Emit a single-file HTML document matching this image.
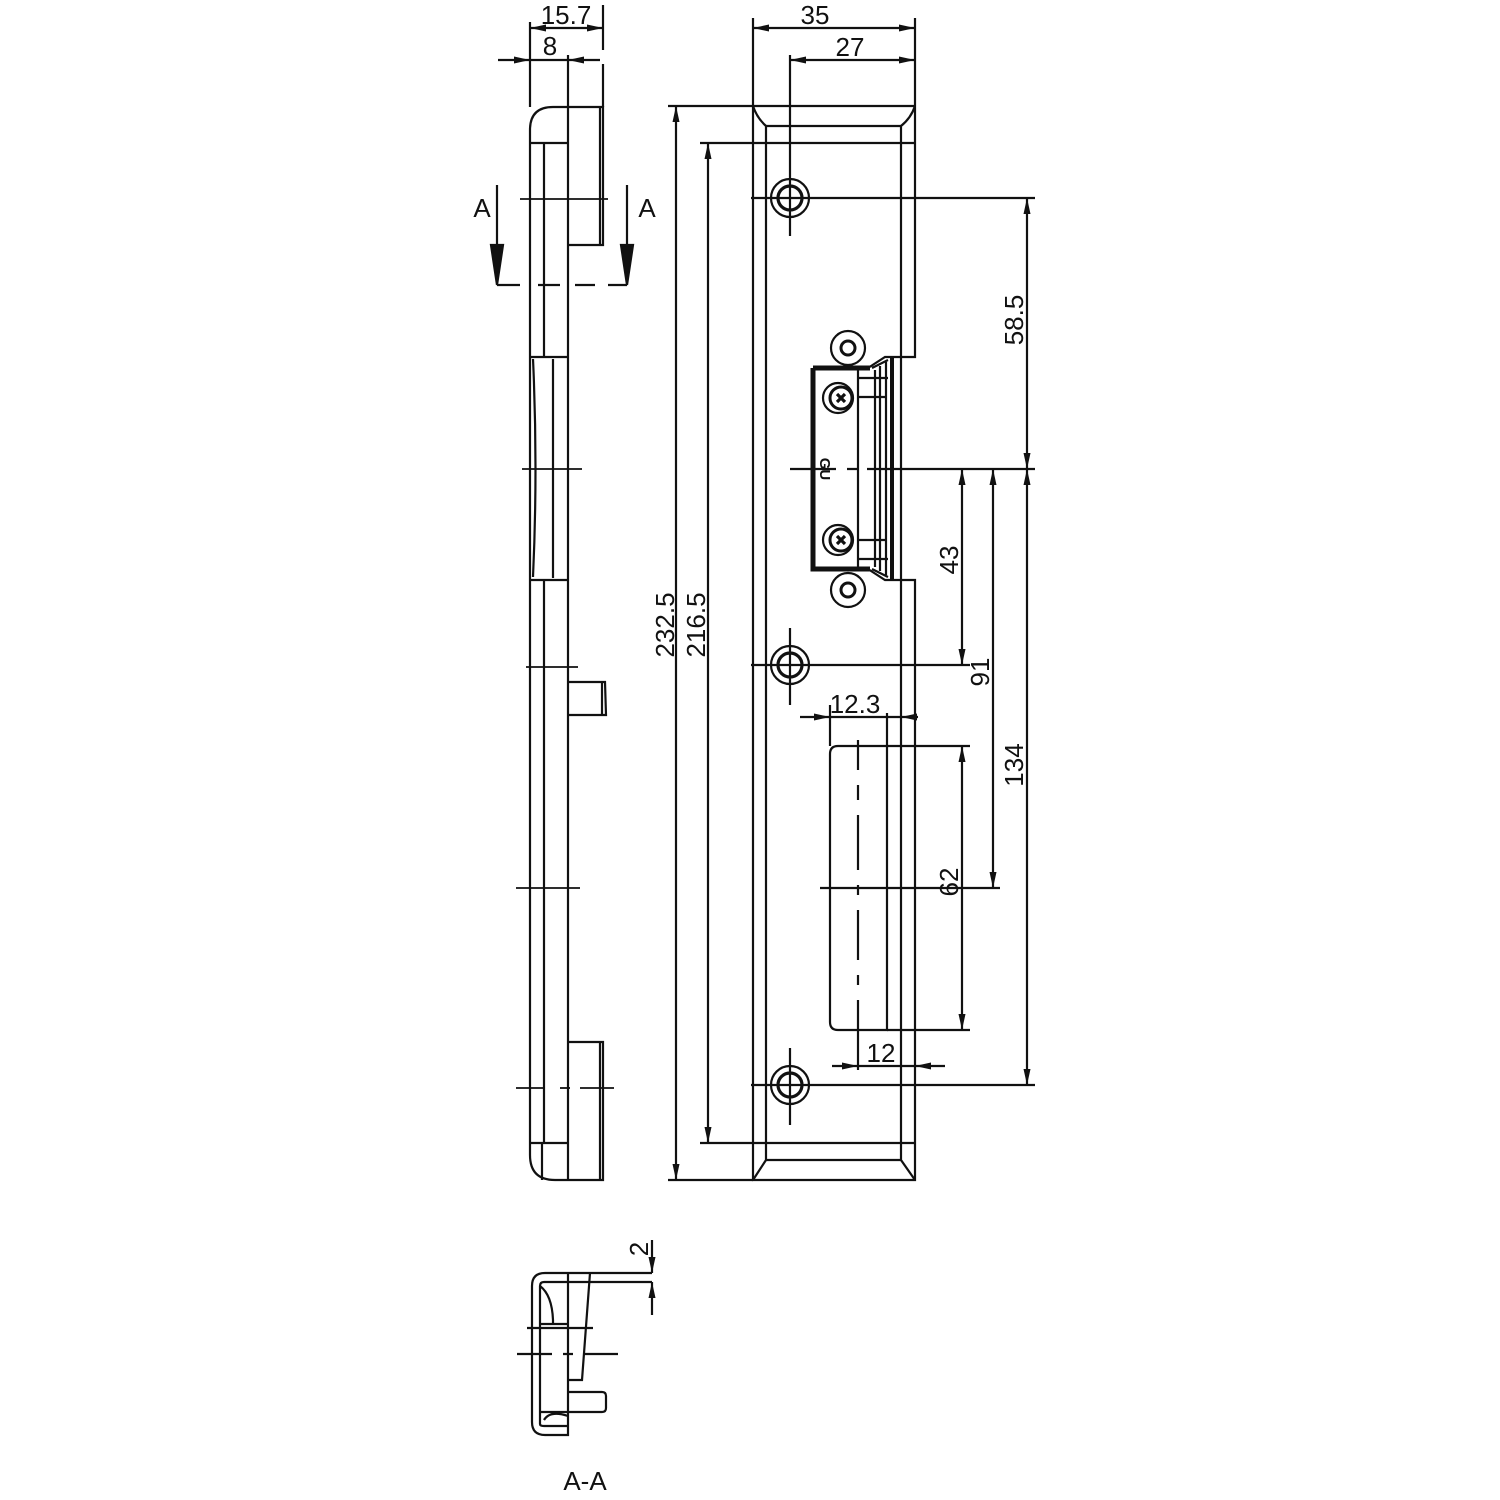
<!DOCTYPE html>
<html><head><meta charset="utf-8">
<style>html,body{margin:0;padding:0;background:#fff}svg{display:block}
text{font-family:"Liberation Sans",sans-serif;fill:#111}</style></head>
<body>
<svg width="1500" height="1500" viewBox="0 0 1500 1500" xmlns="http://www.w3.org/2000/svg">
<defs>
<marker id="a" viewBox="0 0 16 8" refX="16" refY="4" markerWidth="16" markerHeight="8" markerUnits="userSpaceOnUse" orient="auto-start-reverse"><path d="M0,0.5 L16,4 L0,7.5z" fill="#111"/></marker>
</defs>
<g stroke="#111" stroke-width="2.2" fill="none">
<!-- ===== SIDE VIEW ===== -->
<path d="M530,1155 L530,130 Q530,107 553,107 L603,107 L603,245 L568,245"/>
<line x1="600" y1="107" x2="600" y2="245"/>
<line x1="530" y1="143" x2="568" y2="143"/>
<line x1="544" y1="143" x2="544" y2="357"/>
<line x1="568" y1="107" x2="568" y2="1180"/>
<line x1="544" y1="580" x2="544" y2="1143"/>
<line x1="530" y1="357" x2="568" y2="357"/>
<line x1="530" y1="580" x2="568" y2="580"/>
<path d="M533,359 Q538,468 533,577"/>
<line x1="553" y1="359" x2="553" y2="578"/>
<path d="M530,1155 Q530,1180 555,1180 L603,1180 L603,1042 L568,1042"/>
<line x1="600" y1="1042" x2="600" y2="1180"/>
<line x1="530" y1="1143" x2="568" y2="1143"/>
<line x1="542" y1="1143" x2="542" y2="1180"/>
<path d="M568,682 L605,682 L606,715 L568,715"/>
<line x1="602" y1="682" x2="602" y2="715"/>
<g stroke-width="1.8">
<line x1="520" y1="199" x2="608" y2="199"/>
<line x1="522" y1="469" x2="582" y2="469"/>
<line x1="526" y1="667" x2="578" y2="667"/>
<line x1="516" y1="888" x2="580" y2="888"/>
<line x1="516" y1="1088" x2="545" y2="1088"/><line x1="560" y1="1088" x2="570" y2="1088"/><line x1="580" y1="1088" x2="614" y2="1088"/>
</g>
<line x1="497" y1="185" x2="497" y2="280"/>
<path d="M491,245 L503,245 L497,285z" fill="#111"/>
<line x1="627" y1="185" x2="627" y2="280"/>
<path d="M621,245 L633,245 L627,285z" fill="#111"/>
<path d="M497,285 L520,285 M538,285 L560,285 M575,285 L595,285 M608,285 L627,285"/>
<line x1="530" y1="22" x2="530" y2="107"/>
<line x1="603" y1="5" x2="603" y2="50"/>
<line x1="603" y1="64" x2="603" y2="107"/>
<line x1="530" y1="28" x2="603" y2="28" marker-start="url(#a)" marker-end="url(#a)"/>
<line x1="498" y1="60" x2="530" y2="60" marker-end="url(#a)"/>
<line x1="600" y1="60" x2="568" y2="60" marker-end="url(#a)"/>
<line x1="530" y1="60" x2="568" y2="60"/>
<line x1="568" y1="55" x2="568" y2="107"/>

<!-- ===== FRONT PLATE ===== -->
<path d="M753,18 L753,1180 L915,1180 L915,580 L900,580"/>
<path d="M915,18 L915,357 L900,357"/>
<line x1="766" y1="143" x2="766" y2="1143"/>
<line x1="901" y1="143" x2="901" y2="1143"/>
<line x1="668" y1="106" x2="915" y2="106"/>
<line x1="700" y1="143" x2="915" y2="143"/>
<line x1="766" y1="126" x2="901" y2="126"/>
<path d="M753,106 Q757,118 766,126 L766,143 M915,106 Q911,118 901,126 L901,143"/>
<line x1="700" y1="1143" x2="915" y2="1143"/>
<line x1="668" y1="1180" x2="753" y2="1180"/>
<line x1="766" y1="1160" x2="901" y2="1160"/>
<path d="M753,1180 L766,1160 L766,1143 M915,1180 L901,1160 L901,1143"/>
<g>
<circle cx="790" cy="198" r="19"/><circle cx="790" cy="198" r="12" stroke-width="3.2"/>
<circle cx="790" cy="665" r="19"/><circle cx="790" cy="665" r="12" stroke-width="3.2"/>
<circle cx="790" cy="1085" r="19"/><circle cx="790" cy="1085" r="12" stroke-width="3.2"/>
</g>
<line x1="790" y1="55" x2="790" y2="236"/>
<line x1="790" y1="628" x2="790" y2="705"/>
<line x1="790" y1="1048" x2="790" y2="1125"/>
<line x1="751" y1="198" x2="1035" y2="198"/>
<line x1="751" y1="665" x2="970" y2="665"/>
<line x1="751" y1="1085" x2="1035" y2="1085"/>
<!-- keeper -->
<path d="M813,368 L813,569 L870,569" stroke-width="5"/>
<path d="M813,368 L870,368" stroke-width="5"/>
<line x1="858" y1="370" x2="858" y2="567"/>
<line x1="858" y1="378" x2="888" y2="378"/><line x1="858" y1="559" x2="888" y2="559"/>
<line x1="858" y1="397" x2="885" y2="397"/><line x1="858" y1="540" x2="885" y2="540"/>
<line x1="875" y1="370" x2="875" y2="567"/>
<line x1="880" y1="366" x2="880" y2="571"/>
<line x1="886" y1="362" x2="886" y2="575"/>
<path d="M892,358 L892,580" stroke-width="4"/>
<path d="M868,368 L885,357 L900,357 M868,569 L885,580 L900,580 M872,368 L888,360 M872,569 L888,577"/>
<circle cx="848" cy="348" r="17"/><circle cx="848" cy="348" r="7" stroke-width="3"/>
<circle cx="848" cy="590" r="17"/><circle cx="848" cy="590" r="7" stroke-width="3"/>
<circle cx="838" cy="398" r="15"/><circle cx="841" cy="398" r="11" stroke-width="3"/>
<circle cx="838" cy="540" r="15"/><circle cx="841" cy="540" r="11" stroke-width="3"/>
<path d="M837,394 L845,402 M845,394 L837,402 M837,536 L845,544 M845,536 L837,544" stroke-width="3.2"/>
<path d="M790,469 L836,469 M847,469 L858,469 M867,469 L1035,469"/>
<!-- slot -->
<path d="M838,746 L887,746 L887,1030 L838,1030 Q830,1030 830,1022 L830,754 Q830,746 838,746z"/>
<line x1="887" y1="746" x2="970" y2="746"/>
<line x1="887" y1="1030" x2="970" y2="1030"/>
<path d="M858,740 L858,770 M858,785 L858,800 M858,815 L858,870 M858,885 L858,895 M858,910 L858,960 M858,975 L858,985 M858,1000 L858,1030" />
<line x1="858" y1="1030" x2="858" y2="1070"/>
<line x1="820" y1="888" x2="1000" y2="888"/>
<line x1="830" y1="705" x2="830" y2="746"/>
<line x1="800" y1="717" x2="830" y2="717" marker-end="url(#a)"/>
<line x1="918" y1="717" x2="901" y2="717" marker-end="url(#a)"/>
<line x1="830" y1="717" x2="901" y2="717"/>
<line x1="887" y1="713" x2="887" y2="746"/>
<line x1="832" y1="1066" x2="858" y2="1066" marker-end="url(#a)"/>
<line x1="945" y1="1066" x2="915" y2="1066" marker-end="url(#a)"/>
<line x1="858" y1="1066" x2="915" y2="1066"/>
<line x1="753" y1="28" x2="915" y2="28" marker-start="url(#a)" marker-end="url(#a)"/>
<line x1="790" y1="60" x2="915" y2="60" marker-start="url(#a)" marker-end="url(#a)"/>
<line x1="676" y1="106" x2="676" y2="1180" marker-start="url(#a)" marker-end="url(#a)"/>
<line x1="708" y1="143" x2="708" y2="1143" marker-start="url(#a)" marker-end="url(#a)"/>
<line x1="1027" y1="198" x2="1027" y2="469" marker-start="url(#a)" marker-end="url(#a)"/>
<line x1="962" y1="469" x2="962" y2="665" marker-start="url(#a)" marker-end="url(#a)"/>
<line x1="993" y1="469" x2="993" y2="888" marker-start="url(#a)" marker-end="url(#a)"/>
<line x1="1027" y1="469" x2="1027" y2="1085" marker-start="url(#a)" marker-end="url(#a)"/>
<line x1="962" y1="746" x2="962" y2="1030" marker-start="url(#a)" marker-end="url(#a)"/>

<!-- ===== SECTION A-A ===== -->
<path d="M652,1273 L545,1273 Q532,1273 532,1286 L532,1422 Q532,1435 545,1435 L568,1435 L568,1273"/>
<path d="M652,1282 L544,1282 Q540,1282 540,1286 L540,1424 Q540,1426 544,1426 L568,1426"/>
<path d="M590,1273 L582,1380 L568,1380"/>
<path d="M540,1286 Q552,1295 553,1320 L553,1324"/>
<path d="M540,1324 L568,1324 M540,1412 L568,1412 M544,1420 Q550,1410 568,1416"/>
<path d="M568,1392 L602,1392 Q606,1392 606,1396 L606,1408 Q606,1412 602,1412 L568,1412"/>
<line x1="527" y1="1328" x2="593" y2="1328"/>
<path d="M517,1354 L552,1354 M563,1354 L573,1354 M585,1354 L618,1354"/>
<line x1="652" y1="1240" x2="652" y2="1273" marker-end="url(#a)"/>
<line x1="652" y1="1315" x2="652" y2="1282" marker-end="url(#a)"/>
</g>
<g font-size="26">
<text x="566" y="24" text-anchor="middle">15.7</text>
<text x="550" y="55" text-anchor="middle">8</text>
<text x="482" y="217" text-anchor="middle">A</text>
<text x="647" y="217" text-anchor="middle">A</text>
<text x="815" y="24" text-anchor="middle">35</text>
<text x="850" y="56" text-anchor="middle">27</text>
<text x="855" y="713" text-anchor="middle">12.3</text>
<text x="881" y="1062" text-anchor="middle">12</text>
<text transform="translate(674,625) rotate(-90)" text-anchor="middle">232.5</text>
<text transform="translate(705,625) rotate(-90)" text-anchor="middle">216.5</text>
<text transform="translate(1023,320) rotate(-90)" text-anchor="middle">58.5</text>
<text transform="translate(958,560) rotate(-90)" text-anchor="middle">43</text>
<text transform="translate(989,672) rotate(-90)" text-anchor="middle">91</text>
<text transform="translate(1023,765) rotate(-90)" text-anchor="middle">134</text>
<text transform="translate(958,882) rotate(-90)" text-anchor="middle">62</text>
<text transform="translate(648,1249) rotate(-90)" text-anchor="middle">2</text>
<text x="585" y="1490" text-anchor="middle">A-A</text>
</g>
<text transform="translate(820,469) rotate(90)" font-size="15" text-anchor="middle" font-weight="bold">GU</text>
</svg>
</body></html>
